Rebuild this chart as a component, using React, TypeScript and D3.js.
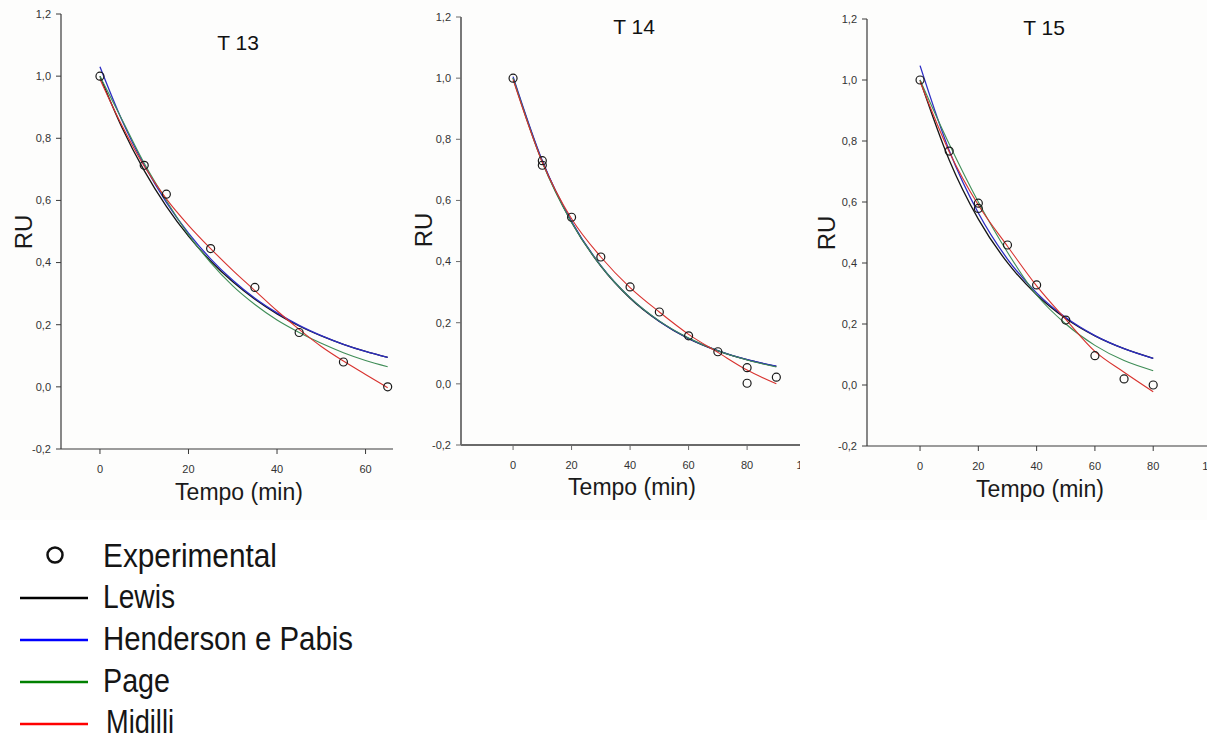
import React from "react";
import * as d3 from "d3";

// ---------- DATA ----------
const panelTitles = ["T 13", "T 14", "T 15"];
const yTickValues = [-0.2, 0, 0.2, 0.4, 0.6, 0.8, 1.0, 1.2];
const xTicks13 = [0, 20, 40, 60];
const xTicks14 = [0, 20, 40, 60, 80, 100];
const xTicks15 = [0, 20, 40, 60, 80, 100];

// T 13
const t13Exp = [0, 10, 15, 25, 35, 45, 55, 65];
const ru13Exp = [1.0, 0.713, 0.62, 0.445, 0.32, 0.175, 0.08, 0.0];
const t13Fit = [0, 5, 10, 15, 20, 25, 30, 35, 40, 45, 50, 55, 60, 65];
const lewis13 = [1.0, 0.834, 0.696, 0.581, 0.485, 0.405, 0.338, 0.282, 0.235, 0.196, 0.164, 0.137, 0.114, 0.095];
const henderson13 = [1.03, 0.857, 0.714, 0.594, 0.495, 0.412, 0.343, 0.285, 0.238, 0.198, 0.165, 0.137, 0.114, 0.095];
const page13 = [1.0, 0.86, 0.72, 0.6, 0.49, 0.4, 0.325, 0.265, 0.215, 0.175, 0.14, 0.11, 0.085, 0.065];
const midilli13 = [0.99, 0.84, 0.71, 0.605, 0.52, 0.445, 0.375, 0.31, 0.245, 0.185, 0.13, 0.083, 0.04, -0.003];

// T 14
const t14Exp = [0, 10, 10, 20, 30, 40, 50, 60, 70, 80, 80, 90];
const ru14Exp = [1.0, 0.73, 0.715, 0.545, 0.415, 0.317, 0.235, 0.157, 0.105, 0.053, 0.002, 0.022];
const t14Fit = [0, 10, 20, 30, 40, 50, 60, 70, 80, 90];
const lewis14 = [1.0, 0.727, 0.529, 0.385, 0.28, 0.204, 0.148, 0.108, 0.079, 0.057];
const henderson14 = [1.005, 0.73, 0.531, 0.387, 0.282, 0.205, 0.149, 0.109, 0.079, 0.058];
const page14 = [1.0, 0.724, 0.528, 0.386, 0.282, 0.206, 0.15, 0.108, 0.078, 0.055];
const midilli14 = [0.995, 0.725, 0.54, 0.415, 0.315, 0.235, 0.162, 0.103, 0.045, 0.0];

// T 15
const t15Exp = [0, 10, 20, 20, 30, 40, 50, 60, 70, 80];
const ru15Exp = [1.0, 0.767, 0.596, 0.579, 0.459, 0.328, 0.213, 0.096, 0.02, 0.0];
const t15Fit = [0, 10, 20, 30, 40, 50, 60, 70, 80];
const lewis15 = [1.0, 0.738, 0.544, 0.401, 0.296, 0.218, 0.161, 0.119, 0.0875];
const henderson15 = [1.047, 0.769, 0.564, 0.413, 0.302, 0.221, 0.162, 0.119, 0.087];
const page15 = [1.0, 0.79, 0.6, 0.435, 0.295, 0.2, 0.13, 0.08, 0.047];
const midilli15 = [0.995, 0.765, 0.59, 0.455, 0.325, 0.215, 0.11, 0.042, -0.022];

const modelNames = ["Lewis", "Henderson e Pabis", "Page", "Midilli"];
const expLabel = "Experimental";

// ---------- STYLE / LAYOUT ----------
const lineColors = ["#151515", "#2d2dc4", "#3f8d57", "#d8322e"];
const legendColors = ["#000000", "#0000ff", "#008000", "#ff0000"];

const panels = [
  {
    title: panelTitles[0], xTicks: xTicks13,
    xDomain: [-8.8, 66.2], xRange: [61, 393], yRange: [449, 14],
    clip: [0, 400], axisColor: "#3a3a3a", axisW: 1.2,
    titlePos: [238, 50], ruPos: [32, 232], tempoPos: [239, 500],
    tExp: t13Exp, ruExp: ru13Exp, tFit: t13Fit,
    fits: [lewis13, henderson13, page13, midilli13],
  },
  {
    title: panelTitles[1], xTicks: xTicks14,
    xDomain: [-17.8, 100], xRange: [461, 805.6], yRange: [445, 17],
    clip: [400, 800], axisColor: "#6a6a6a", axisW: 1.8,
    titlePos: [634, 34], ruPos: [432, 230], tempoPos: [632, 495],
    tExp: t14Exp, ruExp: ru14Exp, tFit: t14Fit,
    fits: [lewis14, henderson14, page14, midilli14],
  },
  {
    title: panelTitles[2], xTicks: xTicks15,
    xDomain: [-18.2, 100], xRange: [867, 1211.5], yRange: [446, 19],
    clip: [800, 1207], axisColor: "#3a3a3a", axisW: 1.2,
    titlePos: [1044, 35], ruPos: [835, 233], tempoPos: [1040, 497],
    tExp: t15Exp, ruExp: ru15Exp, tFit: t15Fit,
    fits: [lewis15, henderson15, page15, midilli15],
  },
];

const fmtY = (v: number) => v.toFixed(1).replace(".", ",");
const sans = "'Liberation Sans', Arial, sans-serif";
const narrow = "'Liberation Sans Narrow', 'Arial Narrow', 'Liberation Sans', sans-serif";

function Panel({ p, idx }: { p: any; idx: number }) {
  const x = d3.scaleLinear().domain(p.xDomain).range(p.xRange);
  const y = d3.scaleLinear().domain([-0.2, 1.2]).range(p.yRange);
  const line = d3
    .line<[number, number]>()
    .x((d) => x(d[0]))
    .y((d) => y(d[1]))
    .curve(d3.curveMonotoneX);
  const x0 = p.xRange[0];
  const yBottom = p.yRange[0];
  const yTop = p.yRange[1];
  const xEnd = Math.min(p.xRange[1], p.clip[1]);
  const clipId = `clip${idx}`;
  return (
    <g>
      <defs>
        <clipPath id={clipId}>
          <rect x={p.clip[0]} y={0} width={p.clip[1] - p.clip[0]} height={520} />
        </clipPath>
      </defs>
      <g clipPath={`url(#${clipId})`}>
        <text x={p.titlePos[0]} y={p.titlePos[1]} textAnchor="middle" fontFamily={sans} fontSize={21} fill="#111">
          {p.title}
        </text>
        {p.fits.map((vals: number[], i: number) => (
          <path
            key={i}
            d={line(p.tFit.map((t: number, j: number) => [t, vals[j]] as [number, number])) || ""}
            fill="none"
            stroke={lineColors[i]}
            strokeWidth={i < 2 ? 1.3 : 1.1}
          />
        ))}
        {p.tExp.map((t: number, i: number) => (
          <circle key={i} cx={x(t)} cy={y(p.ruExp[i])} r={4} fill="none" stroke="#1a1a1a" strokeWidth={1.2} />
        ))}
        <line x1={x0} x2={x0} y1={yTop} y2={yBottom} stroke={p.axisColor} strokeWidth={p.axisW} />
        {yTickValues.map((v) => (
          <g key={v}>
            <line x1={x0 - 5} x2={x0} y1={y(v)} y2={y(v)} stroke={p.axisColor} strokeWidth={1} />
            <text x={x0 - 10} y={y(v)} dy="0.35em" textAnchor="end" fontFamily={sans} fontSize={11} fill="#333">
              {fmtY(v)}
            </text>
          </g>
        ))}
        <line x1={x0} x2={xEnd} y1={yBottom} y2={yBottom} stroke={p.axisColor} strokeWidth={p.axisW} />
        {p.xTicks.map((v: number) => (
          <g key={v}>
            <line x1={x(v)} x2={x(v)} y1={yBottom} y2={yBottom + 5} stroke={p.axisColor} strokeWidth={1} />
            <text x={x(v)} y={yBottom + 24} textAnchor="middle" fontFamily={sans} fontSize={11} fill="#333">
              {v}
            </text>
          </g>
        ))}
        <text x={p.tempoPos[0]} y={p.tempoPos[1]} textAnchor="middle" fontFamily={sans} fontSize={23} fill="#1a1a1a">
          Tempo (min)
        </text>
        <text
          transform={`translate(${p.ruPos[0]},${p.ruPos[1]}) rotate(-90)`}
          textAnchor="middle"
          fontFamily={sans}
          fontSize={24}
          fill="#1a1a1a"
        >
          RU
        </text>
      </g>
    </g>
  );
}

const legendTextLen = [174, 72, 250, 67, 68];

export default function App() {
  const legendBaselines = [567, 608, 650, 692, 733];
  return (
    <svg
      width={1207}
      height={740}
      style={{ position: "absolute", left: 0, top: 0, background: "#ffffff" }}
    >
      <rect x={0} y={0} width={1207} height={520} fill="#fdfdfc" />
      {panels.map((p, i) => (
        <Panel key={i} p={p} idx={i} />
      ))}
      <circle cx={55} cy={555} r={7.5} fill="none" stroke="#111" strokeWidth={2.5} />
      <text
        x={103}
        y={legendBaselines[0]}
        fontFamily={narrow}
        fontSize={33}
        fill="#151515"
        textLength={legendTextLen[0]}
        lengthAdjust="spacingAndGlyphs"
      >
        {expLabel}
      </text>
      {modelNames.map((name, i) => (
        <g key={name}>
          <line
            x1={20}
            x2={88}
            y1={i === 3 ? 724 : legendBaselines[i + 1] - 10}
            y2={i === 3 ? 724 : legendBaselines[i + 1] - 10}
            stroke={legendColors[i]}
            strokeWidth={2.5}
          />
          <text
            x={i === 3 ? 106 : 103}
            y={legendBaselines[i + 1]}
            fontFamily={narrow}
            fontSize={33}
            fill="#151515"
            textLength={legendTextLen[i + 1]}
            lengthAdjust="spacingAndGlyphs"
          >
            {name}
          </text>
        </g>
      ))}
    </svg>
  );
}
